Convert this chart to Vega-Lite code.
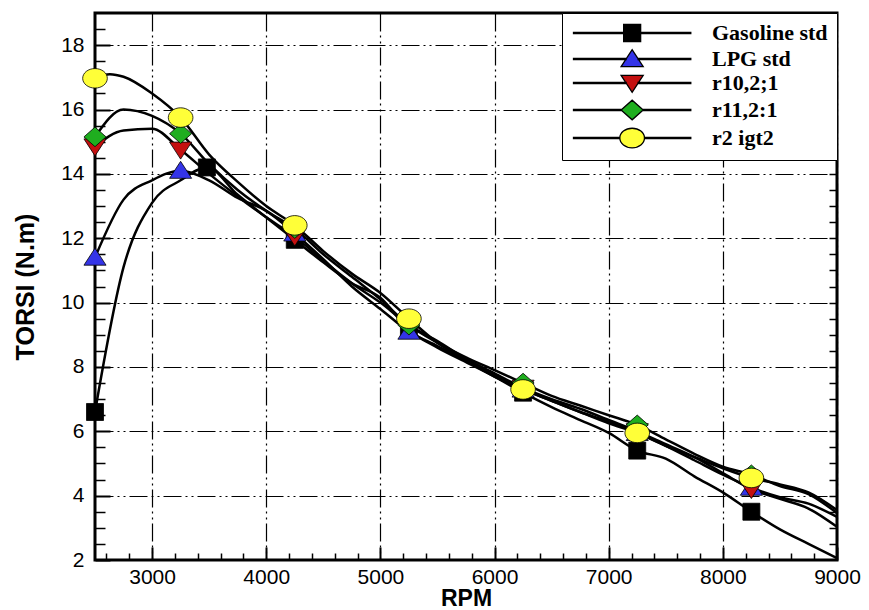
{
  "$schema": "https://vega.github.io/schema/vega-lite/v6.json",
  "width": 742,
  "height": 547,
  "autosize": {"type": "none"},
  "padding": {"left": 95, "top": 13, "right": 32, "bottom": 50},
  "background": "white",
  "config": {
    "view": {"stroke": "black", "strokeWidth": 3},
    "axis": {"labelColor": "black", "labelFont": "Liberation Sans", "labelFontSize": 21, "tickColor": "black", "domain": false, "titleColor": "black", "titleFont": "Liberation Sans", "titleFontWeight": "bold"}
  },
  "datasets": {
    "lines": [
      {"series": "Gasoline std", "rpm": 2500, "torque": 6.6},
      {"series": "Gasoline std", "rpm": 2750, "torque": 11.1},
      {"series": "Gasoline std", "rpm": 3000, "torque": 13.1},
      {"series": "Gasoline std", "rpm": 3250, "torque": 13.8},
      {"series": "Gasoline std", "rpm": 3480, "torque": 14.2},
      {"series": "Gasoline std", "rpm": 3750, "torque": 13.35},
      {"series": "Gasoline std", "rpm": 4000, "torque": 12.65},
      {"series": "Gasoline std", "rpm": 4250, "torque": 11.95},
      {"series": "Gasoline std", "rpm": 4500, "torque": 11.25},
      {"series": "Gasoline std", "rpm": 4750, "torque": 10.6},
      {"series": "Gasoline std", "rpm": 5000, "torque": 10.15},
      {"series": "Gasoline std", "rpm": 5250, "torque": 9.15},
      {"series": "Gasoline std", "rpm": 5500, "torque": 8.6},
      {"series": "Gasoline std", "rpm": 5750, "torque": 8.15},
      {"series": "Gasoline std", "rpm": 6000, "torque": 7.7},
      {"series": "Gasoline std", "rpm": 6250, "torque": 7.2},
      {"series": "Gasoline std", "rpm": 6500, "torque": 6.75},
      {"series": "Gasoline std", "rpm": 6750, "torque": 6.35},
      {"series": "Gasoline std", "rpm": 7000, "torque": 5.95},
      {"series": "Gasoline std", "rpm": 7250, "torque": 5.4},
      {"series": "Gasoline std", "rpm": 7500, "torque": 5.15},
      {"series": "Gasoline std", "rpm": 7750, "torque": 4.6},
      {"series": "Gasoline std", "rpm": 8000, "torque": 4.1},
      {"series": "Gasoline std", "rpm": 8250, "torque": 3.5},
      {"series": "Gasoline std", "rpm": 8500, "torque": 2.95},
      {"series": "Gasoline std", "rpm": 8750, "torque": 2.5},
      {"series": "Gasoline std", "rpm": 9000, "torque": 2.06},
      {"series": "LPG std", "rpm": 2500, "torque": 11.4},
      {"series": "LPG std", "rpm": 2750, "torque": 13.2},
      {"series": "LPG std", "rpm": 3000, "torque": 13.8},
      {"series": "LPG std", "rpm": 3250, "torque": 14.1},
      {"series": "LPG std", "rpm": 3500, "torque": 13.8},
      {"series": "LPG std", "rpm": 3750, "torque": 13.25},
      {"series": "LPG std", "rpm": 4000, "torque": 12.85},
      {"series": "LPG std", "rpm": 4250, "torque": 12.15},
      {"series": "LPG std", "rpm": 4500, "torque": 11.35},
      {"series": "LPG std", "rpm": 4750, "torque": 10.5},
      {"series": "LPG std", "rpm": 5000, "torque": 9.8},
      {"series": "LPG std", "rpm": 5250, "torque": 9.1},
      {"series": "LPG std", "rpm": 5500, "torque": 8.65},
      {"series": "LPG std", "rpm": 5750, "torque": 8.2},
      {"series": "LPG std", "rpm": 6000, "torque": 7.75},
      {"series": "LPG std", "rpm": 6250, "torque": 7.3},
      {"series": "LPG std", "rpm": 6500, "torque": 6.95},
      {"series": "LPG std", "rpm": 6750, "torque": 6.6},
      {"series": "LPG std", "rpm": 7000, "torque": 6.25},
      {"series": "LPG std", "rpm": 7250, "torque": 5.95},
      {"series": "LPG std", "rpm": 7500, "torque": 5.55},
      {"series": "LPG std", "rpm": 7750, "torque": 5.1},
      {"series": "LPG std", "rpm": 8000, "torque": 4.65},
      {"series": "LPG std", "rpm": 8250, "torque": 4.25},
      {"series": "LPG std", "rpm": 8500, "torque": 3.95},
      {"series": "LPG std", "rpm": 8750, "torque": 3.75},
      {"series": "LPG std", "rpm": 9000, "torque": 3.34},
      {"series": "r10,2;1", "rpm": 2500, "torque": 14.85},
      {"series": "r10,2;1", "rpm": 2750, "torque": 15.35},
      {"series": "r10,2;1", "rpm": 3000, "torque": 15.4},
      {"series": "r10,2;1", "rpm": 3250, "torque": 14.75},
      {"series": "r10,2;1", "rpm": 3500, "torque": 14.0},
      {"series": "r10,2;1", "rpm": 3750, "torque": 13.3},
      {"series": "r10,2;1", "rpm": 4000, "torque": 12.65},
      {"series": "r10,2;1", "rpm": 4250, "torque": 12.05},
      {"series": "r10,2;1", "rpm": 4500, "torque": 11.3},
      {"series": "r10,2;1", "rpm": 4750, "torque": 10.6},
      {"series": "r10,2;1", "rpm": 5000, "torque": 10.0},
      {"series": "r10,2;1", "rpm": 5250, "torque": 9.3},
      {"series": "r10,2;1", "rpm": 5500, "torque": 8.8},
      {"series": "r10,2;1", "rpm": 5750, "torque": 8.25},
      {"series": "r10,2;1", "rpm": 6000, "torque": 7.8},
      {"series": "r10,2;1", "rpm": 6250, "torque": 7.35},
      {"series": "r10,2;1", "rpm": 6500, "torque": 7.0},
      {"series": "r10,2;1", "rpm": 6750, "torque": 6.7},
      {"series": "r10,2;1", "rpm": 7000, "torque": 6.35},
      {"series": "r10,2;1", "rpm": 7250, "torque": 6.0},
      {"series": "r10,2;1", "rpm": 7500, "torque": 5.6},
      {"series": "r10,2;1", "rpm": 7750, "torque": 5.2},
      {"series": "r10,2;1", "rpm": 8000, "torque": 4.7},
      {"series": "r10,2;1", "rpm": 8250, "torque": 4.2},
      {"series": "r10,2;1", "rpm": 8500, "torque": 3.9},
      {"series": "r10,2;1", "rpm": 8750, "torque": 3.6},
      {"series": "r10,2;1", "rpm": 9000, "torque": 3.03},
      {"series": "r11,2:1", "rpm": 2500, "torque": 15.15},
      {"series": "r11,2:1", "rpm": 2750, "torque": 16.0},
      {"series": "r11,2:1", "rpm": 3000, "torque": 15.8},
      {"series": "r11,2:1", "rpm": 3250, "torque": 15.25},
      {"series": "r11,2:1", "rpm": 3500, "torque": 14.3},
      {"series": "r11,2:1", "rpm": 3750, "torque": 13.5},
      {"series": "r11,2:1", "rpm": 4000, "torque": 12.85},
      {"series": "r11,2:1", "rpm": 4250, "torque": 12.3},
      {"series": "r11,2:1", "rpm": 4500, "torque": 11.5},
      {"series": "r11,2:1", "rpm": 4750, "torque": 10.8},
      {"series": "r11,2:1", "rpm": 5000, "torque": 10.1},
      {"series": "r11,2:1", "rpm": 5250, "torque": 9.3},
      {"series": "r11,2:1", "rpm": 5500, "torque": 8.75},
      {"series": "r11,2:1", "rpm": 5750, "torque": 8.3},
      {"series": "r11,2:1", "rpm": 6000, "torque": 7.9},
      {"series": "r11,2:1", "rpm": 6250, "torque": 7.5},
      {"series": "r11,2:1", "rpm": 6500, "torque": 7.1},
      {"series": "r11,2:1", "rpm": 6750, "torque": 6.8},
      {"series": "r11,2:1", "rpm": 7000, "torque": 6.5},
      {"series": "r11,2:1", "rpm": 7250, "torque": 6.2},
      {"series": "r11,2:1", "rpm": 7500, "torque": 5.75},
      {"series": "r11,2:1", "rpm": 7750, "torque": 5.3},
      {"series": "r11,2:1", "rpm": 8000, "torque": 4.9},
      {"series": "r11,2:1", "rpm": 8250, "torque": 4.65},
      {"series": "r11,2:1", "rpm": 8500, "torque": 4.3},
      {"series": "r11,2:1", "rpm": 8750, "torque": 4.05},
      {"series": "r11,2:1", "rpm": 9000, "torque": 3.46},
      {"series": "r2 igt2", "rpm": 2500, "torque": 16.97},
      {"series": "r2 igt2", "rpm": 2630, "torque": 17.1},
      {"series": "r2 igt2", "rpm": 2750, "torque": 17.02},
      {"series": "r2 igt2", "rpm": 3000, "torque": 16.5},
      {"series": "r2 igt2", "rpm": 3250, "torque": 15.75},
      {"series": "r2 igt2", "rpm": 3500, "torque": 14.6},
      {"series": "r2 igt2", "rpm": 3750, "torque": 13.75},
      {"series": "r2 igt2", "rpm": 4000, "torque": 13.0},
      {"series": "r2 igt2", "rpm": 4250, "torque": 12.4},
      {"series": "r2 igt2", "rpm": 4500, "torque": 11.6},
      {"series": "r2 igt2", "rpm": 4750, "torque": 10.9},
      {"series": "r2 igt2", "rpm": 5000, "torque": 10.3},
      {"series": "r2 igt2", "rpm": 5250, "torque": 9.5},
      {"series": "r2 igt2", "rpm": 5500, "torque": 8.75},
      {"series": "r2 igt2", "rpm": 5750, "torque": 8.2},
      {"series": "r2 igt2", "rpm": 6000, "torque": 7.7},
      {"series": "r2 igt2", "rpm": 6250, "torque": 7.3},
      {"series": "r2 igt2", "rpm": 6500, "torque": 6.95},
      {"series": "r2 igt2", "rpm": 6750, "torque": 6.6},
      {"series": "r2 igt2", "rpm": 7000, "torque": 6.3},
      {"series": "r2 igt2", "rpm": 7250, "torque": 5.95},
      {"series": "r2 igt2", "rpm": 7500, "torque": 5.55},
      {"series": "r2 igt2", "rpm": 7750, "torque": 5.2},
      {"series": "r2 igt2", "rpm": 8000, "torque": 4.85},
      {"series": "r2 igt2", "rpm": 8250, "torque": 4.55},
      {"series": "r2 igt2", "rpm": 8500, "torque": 4.35},
      {"series": "r2 igt2", "rpm": 8750, "torque": 4.1},
      {"series": "r2 igt2", "rpm": 9000, "torque": 3.55}
    ],
    "markers": [
      {"series": "Gasoline std", "rpm": 2500, "torque": 6.6},
      {"series": "Gasoline std", "rpm": 3480, "torque": 14.2},
      {"series": "Gasoline std", "rpm": 4250, "torque": 11.95},
      {"series": "Gasoline std", "rpm": 5250, "torque": 9.15},
      {"series": "Gasoline std", "rpm": 6250, "torque": 7.2},
      {"series": "Gasoline std", "rpm": 7250, "torque": 5.4},
      {"series": "Gasoline std", "rpm": 8250, "torque": 3.5},
      {"series": "LPG std", "rpm": 2500, "torque": 11.4},
      {"series": "LPG std", "rpm": 3250, "torque": 14.1},
      {"series": "LPG std", "rpm": 4250, "torque": 12.15},
      {"series": "LPG std", "rpm": 5250, "torque": 9.1},
      {"series": "LPG std", "rpm": 6250, "torque": 7.3},
      {"series": "LPG std", "rpm": 7250, "torque": 5.95},
      {"series": "LPG std", "rpm": 8250, "torque": 4.25},
      {"series": "r10,2;1", "rpm": 2500, "torque": 14.85},
      {"series": "r10,2;1", "rpm": 3250, "torque": 14.75},
      {"series": "r10,2;1", "rpm": 4250, "torque": 12.05},
      {"series": "r10,2;1", "rpm": 5250, "torque": 9.3},
      {"series": "r10,2;1", "rpm": 6250, "torque": 7.35},
      {"series": "r10,2;1", "rpm": 7250, "torque": 6.0},
      {"series": "r10,2;1", "rpm": 8250, "torque": 4.2},
      {"series": "r11,2:1", "rpm": 2500, "torque": 15.15},
      {"series": "r11,2:1", "rpm": 3250, "torque": 15.25},
      {"series": "r11,2:1", "rpm": 4250, "torque": 12.3},
      {"series": "r11,2:1", "rpm": 5250, "torque": 9.3},
      {"series": "r11,2:1", "rpm": 6250, "torque": 7.5},
      {"series": "r11,2:1", "rpm": 7250, "torque": 6.2},
      {"series": "r11,2:1", "rpm": 8250, "torque": 4.65},
      {"series": "r2 igt2", "rpm": 2500, "torque": 16.97},
      {"series": "r2 igt2", "rpm": 3250, "torque": 15.75},
      {"series": "r2 igt2", "rpm": 4250, "torque": 12.4},
      {"series": "r2 igt2", "rpm": 5250, "torque": 9.5},
      {"series": "r2 igt2", "rpm": 6250, "torque": 7.3},
      {"series": "r2 igt2", "rpm": 7250, "torque": 5.95},
      {"series": "r2 igt2", "rpm": 8250, "torque": 4.55}
    ]
  },
  "resolve": {"axis": {"x": "independent", "y": "independent"}},
  "layer": [
    {
      "data": {"name": "markers"},
      "mark": {"type": "point", "opacity": 0},
      "encoding": {
        "x": {"field": "rpm", "type": "quantitative", "scale": {"domain": [2500, 9000], "nice": false, "zero": false},
          "axis": {"orient": "bottom", "values": [3000, 4000, 5000, 6000, 7000, 8000, 9000], "labels": false, "grid": false, "tickSize": -13, "tickWidth": 2, "title": null}},
        "y": {"field": "torque", "type": "quantitative", "scale": {"domain": [2, 19], "nice": false, "zero": false},
          "axis": {"orient": "left", "values": [2, 4, 6, 8, 10, 12, 14, 16, 18], "labels": false, "grid": false, "tickSize": -15, "tickWidth": 2, "title": null}}
      }
    },
    {
      "data": {"name": "markers"},
      "mark": {"type": "point", "opacity": 0},
      "encoding": {
        "x": {"field": "rpm", "type": "quantitative", "axis": null},
        "y": {"field": "torque", "type": "quantitative",
          "axis": {"orient": "right", "values": [2.5, 3, 3.5, 4, 4.5, 5, 5.5, 6, 6.5, 7, 7.5, 8, 8.5, 9, 9.5, 10, 10.5, 11, 11.5, 12, 12.5, 13, 13.5, 14, 14.5, 15, 15.5, 16, 16.5, 17, 17.5, 18, 18.5], "labels": false, "grid": false, "tickSize": -8, "tickWidth": 1.5, "title": null}}
      }
    },
    {
      "data": {"name": "lines"},
      "mark": {"type": "line", "color": "black", "strokeWidth": 2.5, "interpolate": "monotone"},
      "encoding": {
        "x": {"field": "rpm", "type": "quantitative",
          "axis": {"orient": "bottom", "values": [3000, 4000, 5000, 6000, 7000, 8000, 9000], "ticks": false, "labelPadding": 6, "grid": true, "gridColor": "black", "gridWidth": 1.2, "gridDash": [18, 4, 2, 4, 2, 4], "title": "RPM", "titleFontSize": 23, "titlePadding": 0, "format": "d", "labelFlush": false}},
        "y": {"field": "torque", "type": "quantitative",
          "axis": {"orient": "left", "values": [2, 4, 6, 8, 10, 12, 14, 16, 18], "ticks": false, "labelPadding": 11, "grid": true, "gridColor": "black", "gridWidth": 1.2, "gridDash": [18, 4, 2, 4, 2, 4], "title": "TORSI (N.m)", "titleFontSize": 25, "titlePadding": 22, "labelFlush": false}},
        "detail": {"field": "series", "type": "nominal"}
      }
    },
    {
      "data": {"name": "markers"},
      "mark": {"type": "point", "filled": true, "stroke": "black", "strokeWidth": 0.8, "size": 289, "opacity": 1},
      "encoding": {
        "x": {"field": "rpm", "type": "quantitative",
          "axis": {"orient": "bottom", "values": [2600, 2800, 3200, 3400, 3600, 3800, 4200, 4400, 4600, 4800, 5200, 5400, 5600, 5800, 6200, 6400, 6600, 6800, 7200, 7400, 7600, 7800, 8200, 8400, 8600, 8800], "labels": false, "grid": false, "tickSize": -7, "tickWidth": 1.5, "title": null}},
        "y": {"field": "torque", "type": "quantitative",
          "axis": {"orient": "left", "values": [2.5, 3, 3.5, 4.5, 5, 5.5, 6.5, 7, 7.5, 8.5, 9, 9.5, 10.5, 11, 11.5, 12.5, 13, 13.5, 14.5, 15, 15.5, 16.5, 17, 17.5, 18.5], "labels": false, "grid": false, "tickSize": -10, "tickWidth": 1.5, "title": null}},
        "shape": {"field": "series", "type": "nominal", "legend": null,
          "scale": {"range": ["M-1,-1H1V1H-1Z", "M-1.3,0.9L1.3,0.9L0,-1.1Z", "M-1.3,-0.9L1.3,-0.9L0,1.1Z", "M-1.3,0L0,-1.15L1.3,0L0,1.15Z", "M-1.45,0A1.45,1.15,0,1,0,1.45,0A1.45,1.15,0,1,0,-1.45,0Z"]}},
        "fill": {"field": "series", "type": "nominal",
          "scale": {"domain": ["Gasoline std", "LPG std", "r10,2;1", "r11,2:1", "r2 igt2"], "range": ["#000000", "#3434e8", "#c41010", "#1fae1f", "#ffff38"]},
          "legend": {
            "title": null, "orient": "top-right", "offset": 0, "padding": 9,
            "strokeColor": "black", "fillColor": "white",
            "labelFont": "Liberation Serif", "labelFontWeight": "bold", "labelFontSize": 22, "labelColor": "black",
            "labelOffset": 119, "symbolSize": 289, "rowPadding": 2, "labelLimit": 300,
            "symbolStrokeColor": "black", "symbolStrokeWidth": 1.3, "symbolOpacity": 1,
            "encode": {"symbols": {"update": {
              "shape": {"signal": "datum.value === 'Gasoline std' ? 'M-1,-0.08H4.9V0.08H-1ZM6.9,-0.08H12.8V0.08H6.9ZM4.9,-1H6.9V1H4.9Z' : datum.value === 'LPG std' ? 'M-1,-0.08H5.2V0.08H-1ZM6.6,-0.08H12.8V0.08H6.6ZM4.6,0.9L7.2,0.9L5.9,-1.1Z' : datum.value === 'r10,2;1' ? 'M-1,-0.08H5.2V0.08H-1ZM6.6,-0.08H12.8V0.08H6.6ZM4.6,-0.9L7.2,-0.9L5.9,1.1Z' : datum.value === 'r11,2:1' ? 'M-1,-0.08H4.6V0.08H-1ZM7.2,-0.08H12.8V0.08H7.2ZM4.6,0L5.9,-1.15L7.2,0L5.9,1.15Z' : 'M-1,-0.08H4.45V0.08H-1ZM7.35,-0.08H12.8V0.08H7.35ZM4.45,0A1.45,1.15,0,1,0,7.35,0A1.45,1.15,0,1,0,4.45,0Z'"},
              "stroke": {"value": "black"},
              "strokeWidth": {"value": 1.3}
            }}}
          }}
      }
    }
  ]
}
